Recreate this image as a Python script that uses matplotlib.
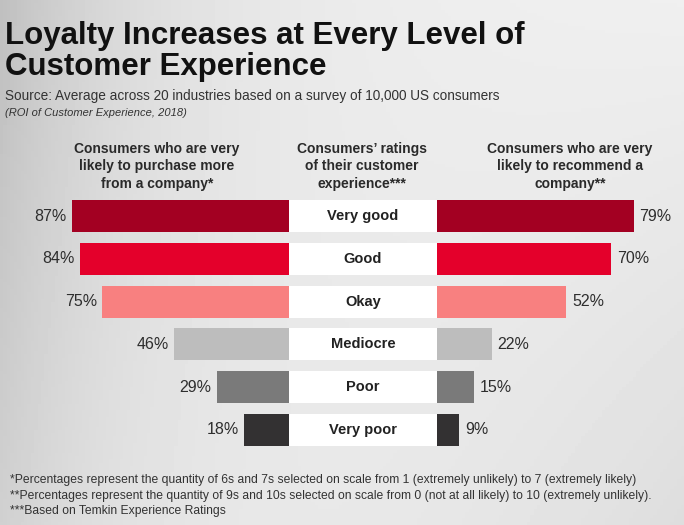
import numpy as np
import matplotlib
matplotlib.use("Agg")
import matplotlib.pyplot as plt

# data
ratings = ["Very good", "Good", "Okay", "Mediocre", "Poor", "Very poor"]
purchase_more = [87, 84, 75, 46, 29, 18]
recommend = [79, 70, 52, 22, 15, 9]
bar_colors = ["#a30022", "#e4002b", "#f88080", "#bdbdbd", "#7a7a7a", "#333132"]

header_left = "Consumers who are very\nlikely to purchase more\nfrom a company*"
header_mid = "Consumers\u2019 ratings\nof their customer\nexperience***"
header_right = "Consumers who are very\nlikely to recommend a\ncompany**"

title = "Loyalty Increases at Every Level of\nCustomer Experience"
subtitle = "Source: Average across 20 industries based on a survey of 10,000 US consumers"
source_note = "(ROI of Customer Experience, 2018)"
footnotes = [
    "*Percentages represent the quantity of 6s and 7s selected on scale from 1 (extremely unlikely) to 7 (extremely likely)",
    "**Percentages represent the quantity of 9s and 10s selected on scale from 0 (not at all likely) to 10 (extremely unlikely).",
    "***Based on Temkin Experience Ratings",
]

plt.rcParams["font.family"] = ["Liberation Sans", "DejaVu Sans"]

W, H = 684, 525
fig = plt.figure(figsize=(W / 100, H / 100), dpi=100)


def fx(px):
    return px / W


def fy(py):
    return 1 - py / H


# background gradient
bg = fig.add_axes([0, 0, 1, 1])
xx, yy = np.meshgrid(np.linspace(0, 1, 200), np.linspace(0, 1, 160))
val = 0.94 - 0.19 * np.exp(-xx / 0.22) * (1 - 0.35 * yy) - 0.07 * yy * xx ** 2
bg.imshow(val, cmap="gray", vmin=0, vmax=1, aspect="auto", extent=[0, 1, 0, 1])
bg.axis("off")

# layout in pixels
px_per_pct = 2.49
row_step = 42.8
y_top = 216 - row_step / 2
y_bot = 430 + row_step / 2
left_edge, mid_l, mid_r = 0, 289, 437
bar_h = 32 / row_step
n = len(ratings)
pos = np.arange(n)

axL = fig.add_axes([fx(left_edge), fy(y_bot), fx(mid_l - left_edge), (y_bot - y_top) / H])
axM = fig.add_axes([fx(mid_l), fy(y_bot), fx(mid_r - mid_l), (y_bot - y_top) / H])
axR = fig.add_axes([fx(mid_r), fy(y_bot), fx(W - mid_r), (y_bot - y_top) / H])

axL.barh(pos, purchase_more, height=bar_h, color=bar_colors)
axL.set_xlim((mid_l - left_edge) / px_per_pct, 0)
axR.barh(pos, recommend, height=bar_h, color=bar_colors)
axR.set_xlim(0, (W - mid_r) / px_per_pct)
axM.barh(pos, [1] * n, height=bar_h, color="white")
axM.set_xlim(0, 1)

for ax in (axL, axM, axR):
    ax.set_ylim(n - 0.5, -0.5)
    ax.axis("off")

for i in range(n):
    axL.text(purchase_more[i] + 2.2, i, f"{purchase_more[i]}%", ha="right", va="center",
             fontsize=11.5, color="#2e2e2e")
    axR.text(recommend[i] + 2.2, i, f"{recommend[i]}%", ha="left", va="center",
             fontsize=11.5, color="#2e2e2e")
    axM.text(0.5, i, ratings[i], ha="center", va="center", fontsize=10.5,
             fontweight="bold", color="#222222")

# headers
for txt, xc in [(header_left, 157), (header_mid, 362), (header_right, 570)]:
    fig.text(fx(xc), fy(142), txt, ha="center", va="top", fontsize=10,
             fontweight="bold", color="#2a2a2a", linespacing=1.3)

# titles
fig.text(fx(5), fy(44), title.split("\n")[0], ha="left", va="baseline", fontsize=22.5,
         fontweight="bold", color="#111111")
fig.text(fx(5), fy(75), title.split("\n")[1], ha="left", va="baseline", fontsize=22.5,
         fontweight="bold", color="#111111")
fig.text(fx(5), fy(100), subtitle, ha="left", va="baseline", fontsize=9.8, color="#333333")
fig.text(fx(5), fy(116), source_note, ha="left", va="baseline", fontsize=8,
         style="italic", color="#333333")

for k, line in enumerate(footnotes):
    fig.text(fx(10), fy(483 + 15.5 * k), line, ha="left", va="baseline",
             fontsize=8.75, color="#333333")

fig.savefig("out.png", dpi=100)
